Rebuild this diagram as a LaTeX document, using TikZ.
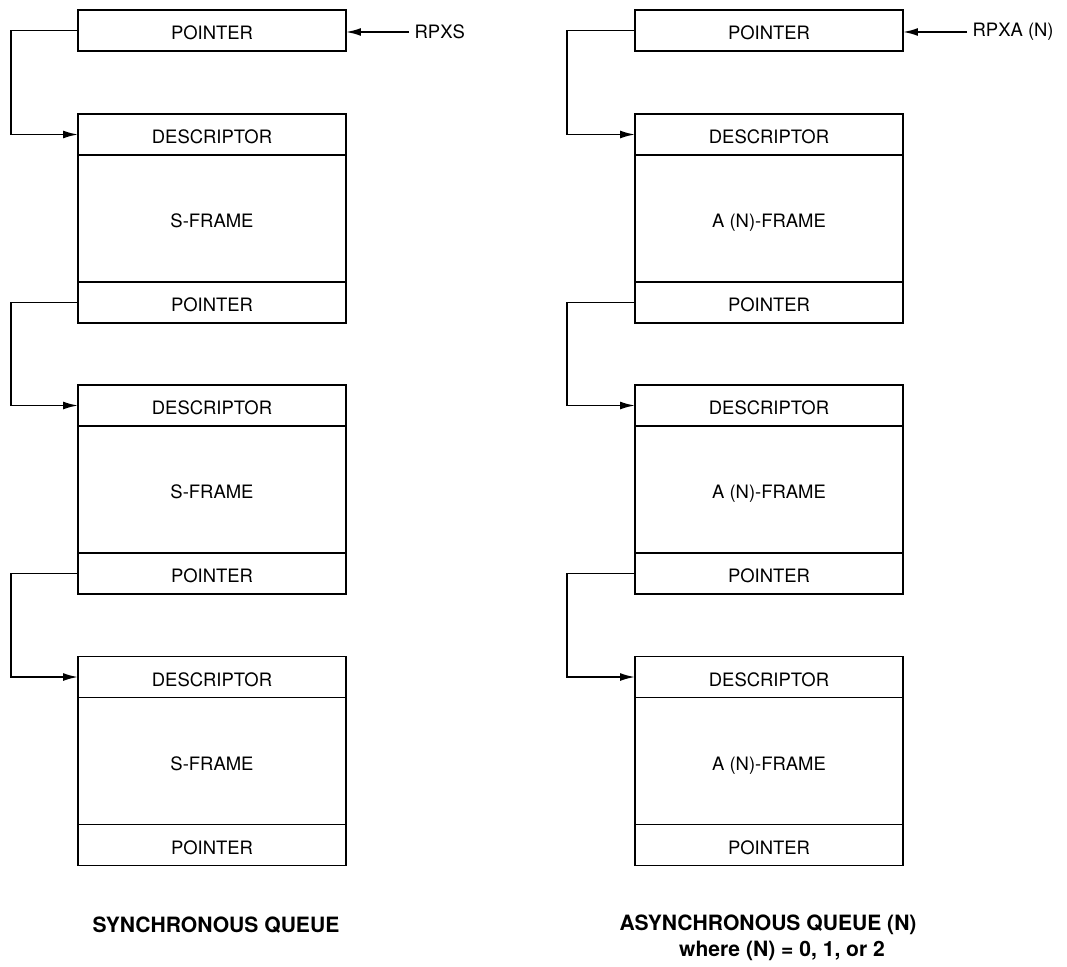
\documentclass[tikz,border=0pt]{standalone}
\usepackage{fontspec}
\setmainfont{TeX Gyre Heros}
\usetikzlibrary{arrows.meta, positioning}
\tikzset{
	cell/.style={draw, line width=1pt, outer sep=0pt, inner sep=0pt, minimum width=5.36cm, minimum height=0.82cm, text height=12pt, text depth=1.4pt, font=\fontsize{10.5}{12}\selectfont},
	body/.style={cell, minimum height=2.54cm},
	link/.style={line width=1pt, -{Latex[length=8.5pt,width=4.5pt]}},
	tag/.style={anchor=west, inner xsep=3pt, inner ysep=0pt, font=\fontsize{10.5}{12}\selectfont},
	caption/.style={inner sep=0pt, font=\fontsize{12}{14}\selectfont\bfseries},
}

\begin{document}
\begin{tikzpicture}[x=0.02cm, y=-0.02cm]
	\useasboundingbox (0,0) rectangle (1067,966);
	\node[cell](sp0)at(212,30.5){POINTER};
	\node[cell](ap0)at(769,30.5){POINTER};
	\foreach \i/\y in {1/134.5, 2/405.5, 3/677}{
		\node[cell](sd\i)at(212,\y){DESCRIPTOR};
		\node[body, below=0pt of sd\i](sf\i){S-FRAME};
		\node[cell, below=0pt of sf\i](sp\i){POINTER};
		\node[cell](ad\i)at(769,\y){DESCRIPTOR};
		\node[body, below=0pt of ad\i](af\i){A (N)-FRAME};
		\node[cell, below=0pt of af\i](ap\i){POINTER};
	}
	\foreach \i/\j in {0/1, 1/2, 2/3}{
		\draw[link](sp\i.west)--++(-67,0)|-(sd\j.west);
		\draw[link](ap\i.west)--++(-68,0)|-(ad\j.west);
	}
	\node[tag](rs)at(409,32){RPXS};
	\draw[link](rs.west)--(rs.west-|sp0.east);
	\node[tag](ra)at(967,32){RPXA (N)};
	\draw[link](ra.west)--(ra.west-|ap0.east);
	\node[caption](sq)at(216,925){SYNCHRONOUS QUEUE};
	\node[caption](aq)at(768,925){ASYNCHRONOUS QUEUE (N)};
	\node[caption](an)at(782,951){where (N) = 0, 1, or 2};
\end{tikzpicture}
\end{document}
